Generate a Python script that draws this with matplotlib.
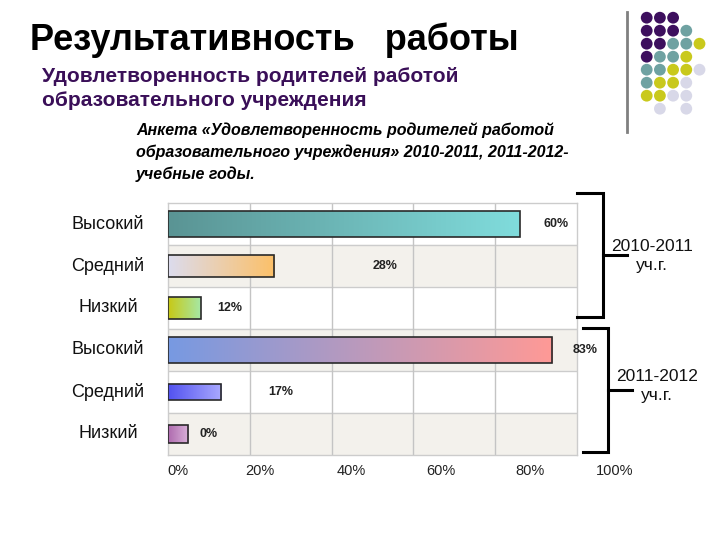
import numpy as np
import matplotlib
matplotlib.use('Agg')
import matplotlib.pyplot as plt
from matplotlib.colors import LinearSegmentedColormap

plt.rcParams['font.family'] = ['Liberation Sans', 'DejaVu Sans']

# Data
categories = ['Высокий', 'Средний', 'Низкий', 'Высокий', 'Средний', 'Низкий']
bar_lengths = [86, 26, 8, 94, 13, 5]          # drawn bar length, % of axis
value_labels = ['60%', '28%', '12%', '83%', '17%', '0%']
tick_labels = ['0%', '20%', '40%', '60%', '80%', '100%']
years = ['2010-2011\nуч.г.', '2011-2012\nуч.г.']

# Styling
label_x = [95, 53, 15, 102, 27.5, 10]
bar_heights = [0.62, 0.52, 0.52, 0.62, 0.36, 0.43]
gradients = [('#5a9494', '#80dcdc'), ('#dcdcee', '#fcc068'), ('#c8c814', '#a6e8a6'),
             ('#7799e2', '#ff9a96'), ('#5252f0', '#aaaaff'), ('#ae6aae', '#dab2da')]
tick_x = [2.4, 22.5, 44.7, 66.7, 88.5, 109.3]

W, H = 720, 540
fig = plt.figure(figsize=(7.2, 5.4), dpi=100)
fig.patch.set_facecolor('white')

def fx(px):
    return px / W

def fy(py):
    return 1 - py / H

ax = fig.add_axes([fx(168), fy(455), fx(577) - fx(168), fy(203) - fy(455)])
n = len(categories)
for i in range(n):
    ax.axhspan(i - 0.5, i + 0.5, color='white' if i % 2 == 0 else '#f3f1ec', zorder=0)
    if i > 0:
        ax.axhline(i - 0.5, color='#cccccc', lw=1, zorder=1)
for x in [20, 40, 60, 80]:
    ax.axvline(x, color='#c4c4c4', lw=1, zorder=1)

bars = ax.barh(range(n), bar_lengths, height=bar_heights, color='none',
               edgecolor='#2a2a2a', lw=1.2, zorder=4)
grad = np.linspace(0, 1, 256).reshape(1, -1)
for i, (b, (c0, c1)) in enumerate(zip(bars, gradients)):
    cmap = LinearSegmentedColormap.from_list('g%d' % i, [c0, c1])
    y0, h = b.get_y(), b.get_height()
    im = ax.imshow(grad, cmap=cmap, aspect='auto', zorder=3,
                   extent=[0, b.get_width(), y0 + h, y0])
    im.set_clip_path(b)

for i, (lx, t) in enumerate(zip(label_x, value_labels)):
    ax.text(lx, i, t, ha='center', va='center', fontsize=9, fontweight='bold',
            color='#222222', clip_on=False, zorder=5)

ax.set_xlim(0, 100)
ax.set_ylim(n - 0.5, -0.5)
ax.set_xticks([])
ax.set_yticks([])
for s in ax.spines.values():
    s.set_color('#cccccc')
    s.set_linewidth(1)

for tx, t in zip(tick_x, tick_labels):
    ax.text(tx, n - 0.5 + 0.37, t, ha='center', va='center', fontsize=10.5,
            color='#222222', clip_on=False)

# category labels, centered in a column left of the plot
for i, c in enumerate(categories):
    ax.annotate(c, xy=(0, i), xycoords=('axes fraction', 'data'),
                xytext=(108 - 168, 0), textcoords='offset pixels',
                ha='center', va='center', fontsize=13, color='#111111')

# titles
fig.text(fx(30), fy(50), 'Результативность   работы', fontsize=26, fontweight='bold',
         color='black', va='baseline')
fig.text(fx(42), fy(82), 'Удовлетворенность родителей работой', fontsize=15,
         fontweight='bold', color='#3a0f58', va='baseline')
fig.text(fx(42), fy(106), 'образовательного учреждения', fontsize=15,
         fontweight='bold', color='#3a0f58', va='baseline')
survey = ['Анкета «Удовлетворенность родителей работой',
          'образовательного учреждения» 2010-2011, 2011-2012-',
          'учебные годы.']
for k, line in enumerate(survey):
    fig.text(fx(136), fy(135 + 22 * k), line, fontsize=11.5, fontweight='bold',
             style='italic', color='black', va='baseline')

# overlay for decoration and brackets
ov = fig.add_axes([0, 0, 1, 1], zorder=10)
ov.set_xlim(0, W)
ov.set_ylim(H, 0)
ov.axis('off')

ov.plot([627, 627], [12, 132], color='#808080', lw=2)
dot_rows = ['PPP', 'PPPT', 'PPTTY', 'PTTY', 'TTYYL', 'TYYL', 'YYLL', '.L.L']
dot_cols = {'P': '#3d0f5e', 'T': '#6fa2a2', 'Y': '#c9c91c', 'L': '#d8d8e8'}
for r, row in enumerate(dot_rows):
    for c, ch in enumerate(row):
        if ch in dot_cols:
            ov.scatter(646.7 + 13.2 * c, 17.7 + 13 * r, s=72, color=dot_cols[ch],
                       edgecolors='none')

brackets = [(577, 603, 193, 317, 255, 627), (583, 608, 328, 452, 390, 632)]
for x0, x1, y0, y1, ym, xt in brackets:
    ov.plot([x0, x1, x1, x0], [y0, y0, y1, y1], color='black', lw=2.2,
            solid_joinstyle='miter')
    ov.plot([x1, xt], [ym, ym], color='black', lw=2.2)
ov.text(652, 256, years[0], ha='center', va='center', fontsize=12.5,
        color='#111111', linespacing=1.3)
ov.text(657, 386, years[1], ha='center', va='center', fontsize=12.5,
        color='#111111', linespacing=1.3)

fig.savefig('out.png', dpi=100)
